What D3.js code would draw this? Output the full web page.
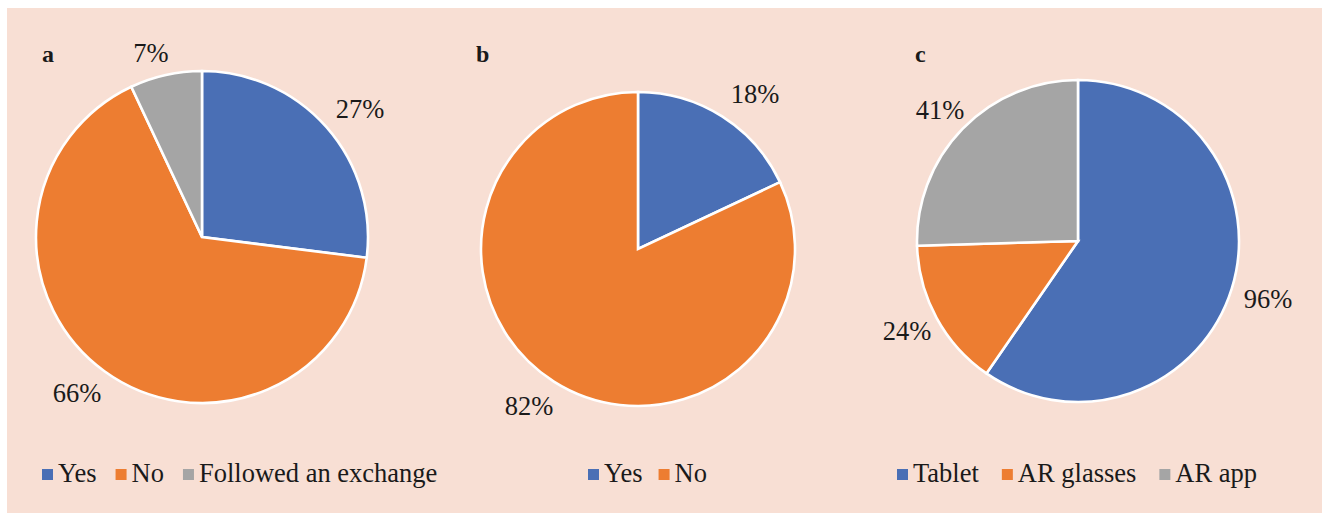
<!DOCTYPE html>
<html>
<head>
<meta charset="utf-8">
<script src="https://cdn.jsdelivr.net/npm/d3@7"></script>
<style>
  html, body { margin: 0; padding: 0; background: #ffffff; }
  svg { display: block; }
</style>
</head>
<body>
<svg id="chart" width="1324" height="513"></svg>
<script>
// Panel a: did participants discuss?
const catsA = ["Yes", "No", "Followed an exchange"];
const valsA = [27, 66, 7];
// Panel b
const catsB = ["Yes", "No"];
const valsB = [18, 82];
// Panel c: device used
const catsC = ["Tablet", "AR glasses", "AR app"];
const valsC = [96, 24, 41];

const panelLetters = ["a", "b", "c"];
const palette = ["#4a6fb5", "#ed7d31", "#a5a5a5"];
const serif = "'Liberation Serif', 'Times New Roman', Times, serif";

const svg = d3.select("#chart");
const W = 1324, H = 513;

svg.append("rect")
  .attr("x", 7).attr("y", 8)
  .attr("width", W - 7 - 2).attr("height", H - 8)
  .attr("fill", "#f8dfd4");

const panels = [
  { cats: catsA, vals: valsA, cx: 202, cy: 237, r: 166, letter: [42, 62],
    labelPos: [[360, 118], [77, 402], [151, 62]], legendX: 42, gap: 19 },
  { cats: catsB, vals: valsB, cx: 638, cy: 249, r: 157, letter: [476, 62],
    labelPos: [[755, 103], [529, 415]], legendX: 588, gap: 16 },
  { cats: catsC, vals: valsC, cx: 1078, cy: 241, r: 161, letter: [915, 62],
    labelPos: [[1268, 308], [907, 340], [940, 119]], legendX: 897, gap: 23 }
];

const pie = d3.pie().sort(null).value(d => d);

panels.forEach((p, i) => {
  const g = svg.append("g").attr("font-family", serif).attr("fill", "#1a1a1a");
  const color = d3.scaleOrdinal().domain(p.cats).range(palette);
  const arc = d3.arc().innerRadius(0).outerRadius(p.r);
  const arcs = pie(p.vals);

  g.append("g")
    .attr("transform", `translate(${p.cx},${p.cy})`)
    .selectAll("path")
    .data(arcs)
    .join("path")
    .attr("d", arc)
    .attr("fill", (d, j) => color(p.cats[j]))
    .attr("stroke", "#ffffff")
    .attr("stroke-width", 2.6)
    .attr("stroke-linejoin", "miter");

  // value labels
  g.selectAll("text.val")
    .data(arcs)
    .join("text")
    .attr("class", "val")
    .attr("x", (d, j) => p.labelPos[j][0])
    .attr("y", (d, j) => p.labelPos[j][1])
    .attr("text-anchor", "middle")
    .attr("font-size", 26.5)
    .text(d => d.data + "%");

  // panel letter
  g.append("text")
    .attr("x", p.letter[0]).attr("y", p.letter[1])
    .attr("font-size", 24)
    .attr("font-weight", "bold")
    .text(panelLetters[i]);

  // legend
  const leg = g.append("g").attr("transform", `translate(${p.legendX},469)`);
  let x = 0;
  p.cats.forEach((c, j) => {
    leg.append("rect")
      .attr("x", x).attr("y", 0)
      .attr("width", 11).attr("height", 11)
      .attr("fill", color(c));
    const t = leg.append("text")
      .attr("x", x + 16).attr("y", 13)
      .attr("font-size", 26.5)
      .text(c);
    x += 16 + t.node().getComputedTextLength() + p.gap;
  });
});
</script>
</body>
</html>
